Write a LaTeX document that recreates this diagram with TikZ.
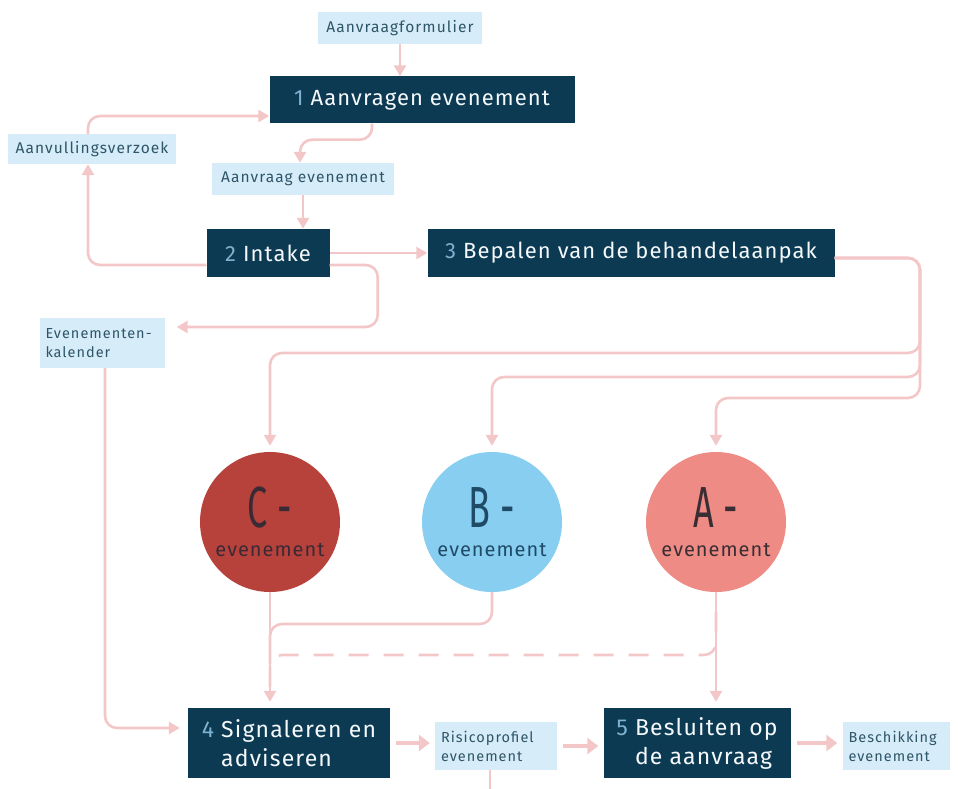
\documentclass[tikz,border=0pt]{standalone}
\usepackage{fontspec}
\setmainfont{Fira Sans}
\newfontfamily\boxfont[LetterSpace=5]{Fira Sans}
\newfontfamily\docfont[LetterSpace=7]{Fira Sans}
\newfontfamily\condfont[FakeStretch=0.62]{Fira Sans}
\usepackage{xcolor}
\usepackage{tikz}
\usetikzlibrary{arrows.meta}

\definecolor{navy}{HTML}{0B3A52}
\definecolor{numblue}{HTML}{7FB2D0}
\definecolor{lblfill}{HTML}{D6ECF9}
\definecolor{lbltext}{HTML}{2E5568}
\definecolor{linkpink}{HTML}{F3C7C7}
\definecolor{cred}{HTML}{B7423B}
\definecolor{bblue}{HTML}{88CEF1}
\definecolor{apink}{HTML}{EE8B85}
\definecolor{ctext}{HTML}{3A2A35}
\definecolor{btext}{HTML}{1F4B66}
\definecolor{atext}{HTML}{3A2E35}

\newcommand{\nr}[1]{{\color{numblue}#1}\hspace{7pt}}

\tikzset{
  procbox/.style={fill=navy, text=white!92!numblue, inner sep=0pt, font=\boxfont\fontsize{22}{29}\selectfont},
  docbox/.style={fill=lblfill, text=lbltext, inner sep=0pt, font=\docfont\fontsize{15.5}{17}\selectfont},
  docbox2/.style={fill=lblfill, text=lbltext, inner xsep=6pt, inner ysep=0pt, align=left, font=\docfont\fontsize{14.5}{19}\selectfont},
  klasse/.style={circle, inner sep=0pt, minimum size=140pt, align=center},
  link/.style={draw=linkpink, line width=2.6pt, rounded corners=12pt, -{Triangle[length=11pt,width=12pt]}},
  biglink/.style={draw=linkpink, line width=4.5pt, -{Triangle[length=11pt,width=16pt]}, shorten <=6pt, shorten >=5pt}
}

\begin{document}
\begin{tikzpicture}[x=1pt, y=-1pt]
            \useasboundingbox (0,0) rectangle (958,789);

            % documents and steps
            \node[docbox, minimum width=164pt, minimum height=32pt] (form) at (400,28) {Aanvraagformulier};
            \node[procbox, minimum width=305pt, minimum height=47pt] (stap1) at (422,100) {\nr{1}Aanvragen evenement};
            \node[docbox, minimum width=168pt, minimum height=30pt] (verzoek) at (92,149) {Aanvullingsverzoek};
            \node[docbox, minimum width=182pt, minimum height=32pt] (aanvraag) at (303,179) {Aanvraag evenement};
            \node[procbox, minimum width=123pt, minimum height=48pt] (stap2) at (268,253) {\nr{2}Intake};
            \node[procbox, minimum width=407pt, minimum height=48pt] (stap3) at (631,253) {\nr{3}Bepalen van de behandelaanpak};
            \node[docbox2, text width=113pt, minimum height=50pt] (kalender) at (102,343) {Evenementen-\\kalender};

            % event classes
            \foreach \k/\x/\kleur/\tekst in {C/270/cred/ctext, B/492/bblue/btext, A/716/apink/atext}{
                \node[klasse, fill=\kleur, text=\tekst, font=\boxfont\fontsize{20}{22}\selectfont] (klasse\k) at (\x,522)
                    {{\condfont\fontsize{58}{58}\selectfont \k\,-}\\[7pt]evenement};
            }

            \node[procbox, minimum width=202pt, minimum height=70pt, align=left, font=\boxfont\fontsize{23}{29}\selectfont] (stap4) at (289,743) {\nr{4}Signaleren en\\\phantom{\nr{4}}adviseren};
            \node[docbox2, text width=110pt, minimum height=48pt] (risico) at (496,746) {Risicoprofiel\\evenement};
            \node[procbox, minimum width=187pt, minimum height=70pt, align=left, font=\boxfont\fontsize{23}{29}\selectfont] (stap5) at (697,743) {\nr{5}Besluiten op\\\phantom{\nr{5}}de aanvraag};
            \node[docbox2, text width=95pt, minimum height=48pt] (beschikking) at (896,746) {Beschikking\\evenement};

            % flows at the top
            \draw[link] (form.south) -- (form.south |- stap1.north);
            \draw[link] ([xshift=-50pt]stap1.south) -- ++(0,16) -| ([xshift=-3pt]aanvraag.north);
            \draw[link] (aanvraag.south) -- (aanvraag.south |- stap2.north);
            \draw[link] ([yshift=-12pt]stap2.west) -| ([xshift=-4pt]verzoek.south);
            \draw[link] ([xshift=-4pt]verzoek.north) |- ([yshift=-16pt]stap1.west);
            \draw[link] (stap2.east) -- (stap3.west);
            \draw[link, shorten >=12pt] ([yshift=-12pt]stap2.east) -- ++(48,0) |- ([yshift=16pt]kalender.east);

            % behandelaanpak to the classes
            \foreach \k/\y in {C/353, B/377, A/398}{
                \draw[link, shorten >=6pt] ([yshift=-5pt]stap3.east) -| (920,\y) -| (klasse\k.north);
            }

            % classes to the steps
            \coordinate (samen) at (270,624);
            \coordinate (splits) at (716,612);
            \draw[link, shorten >=8pt] ([xshift=3pt]kalender.south) |- ([yshift=15pt]stap4.west);
            \draw[link, shorten >=6pt] (klasseC.south) -- (klasseC.south |- stap4.north);
            \draw[link, -] (klasseB.south) |- (samen) -- ++(0,40);
            \draw[link, -, dash pattern=on 20pt off 15pt] (splits) |- (270,655) -- ++(0,35);
            \draw[link, shorten >=6pt] (klasseA.south) -- (klasseA.south |- stap5.north);

            % bottom row
            \draw[biglink] (stap4.east) -- (stap4.east -| risico.west);
            \draw[biglink] (risico.east) -- (risico.east -| stap5.west);
            \draw[biglink] (stap5.east) -- (stap5.east -| beschikking.west);
            \draw[link, -] ([xshift=-6pt]risico.south) -- ++(0,25);
\end{tikzpicture}
\end{document}
